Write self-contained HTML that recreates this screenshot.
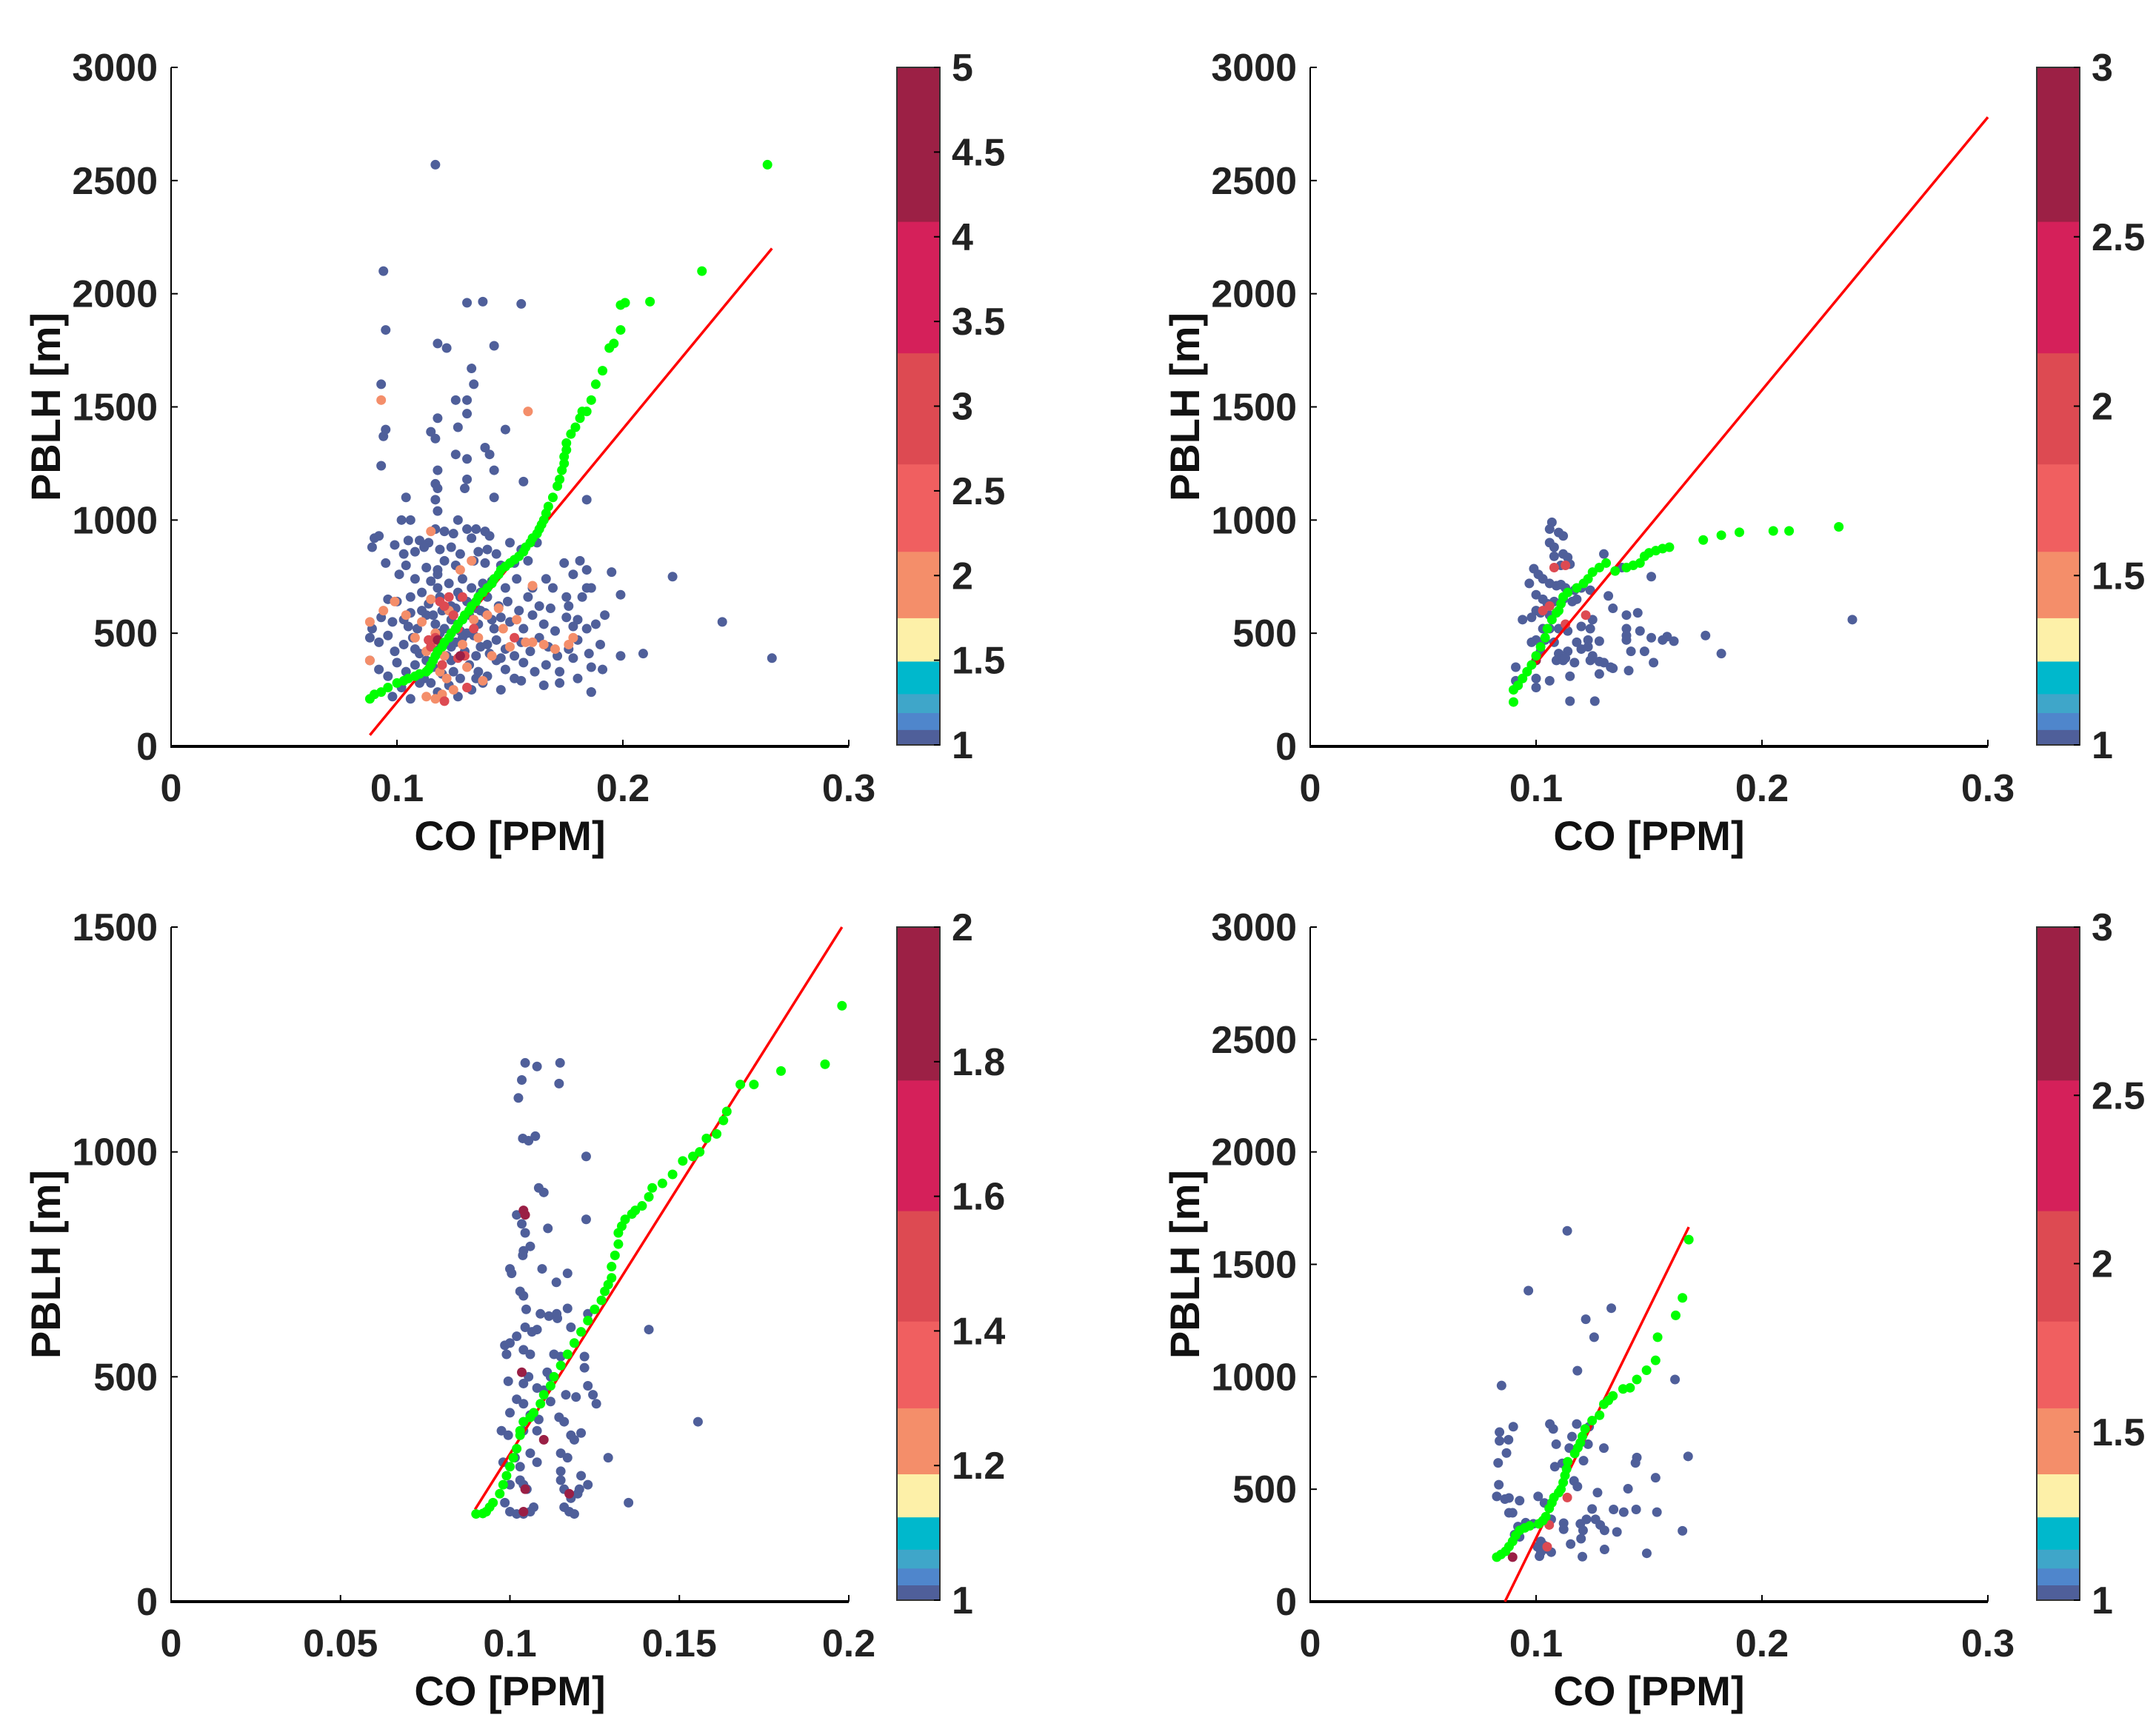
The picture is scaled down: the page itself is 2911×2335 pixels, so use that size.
<!DOCTYPE html>
<html><head><meta charset="utf-8"><style>
html,body{margin:0;padding:0;background:#fff;}
svg{display:block;font-family:"Liberation Sans",Arial,sans-serif;font-weight:bold;}
</style></head><body>
<svg id="fig" width="2911" height="2335" viewBox="0 0 2911 2335" xmlns="http://www.w3.org/2000/svg"></svg>
<script>
// ---------- DATA ----------
const p1Navy=[[0.117,2570],[0.094,2100],[0.095,1840],[0.131,1960],[0.138,1965],[0.155,1955],[0.118,1780],[0.122,1760],[0.143,1770],[0.133,1670],[0.134,1600],[0.093,1600],[0.094,1370],[0.095,1400],[0.093,1240],[0.126,1530],[0.118,1450],[0.131,1530],[0.131,1470],[0.127,1410],[0.115,1390],[0.117,1360],[0.148,1400],[0.139,1320],[0.126,1290],[0.141,1290],[0.131,1270],[0.118,1220],[0.143,1220],[0.117,1160],[0.118,1140],[0.131,1180],[0.130,1140],[0.156,1170],[0.104,1100],[0.143,1100],[0.184,1090],[0.117,1090],[0.118,1040],[0.089,880],[0.090,920],[0.092,930],[0.102,1000],[0.106,1000],[0.222,750],[0.244,550],[0.266,390],[0.209,410],[0.199,400],[0.199,670],[0.195,770],[0.192,580],[0.186,240],[0.181,820],[0.184,780],[0.184,700],
[0.117,960],[0.121,950],[0.127,1000],[0.131,960],[0.135,960],[0.139,950],[0.133,920],[0.141,930],[0.125,940],[0.110,910],[0.105,910],[0.114,900],
[0.103,850],[0.108,860],[0.112,880],[0.099,890],[0.119,870],[0.124,880],[0.128,850],[0.136,860],[0.140,870],[0.144,850],[0.150,900],[0.155,870],[0.162,900],
[0.095,810],[0.104,800],[0.113,790],[0.118,780],[0.121,820],[0.126,800],[0.134,820],[0.139,810],[0.146,800],[0.152,810],[0.158,820],[0.174,810],[0.178,760],[0.166,740],
[0.101,760],[0.108,740],[0.115,730],[0.118,760],[0.123,720],[0.129,740],[0.133,700],[0.138,720],[0.142,730],[0.148,700],[0.153,740],[0.160,700],[0.169,700],[0.175,660],[0.186,700],
[0.096,650],[0.100,640],[0.106,660],[0.111,680],[0.114,630],[0.119,660],[0.124,620],[0.127,680],[0.131,640],[0.135,610],[0.140,660],[0.145,620],[0.149,640],[0.154,600],[0.158,660],[0.163,620],[0.168,610],[0.176,620],[0.182,660],[0.180,560],
[0.089,520],[0.093,570],[0.098,550],[0.103,560],[0.106,590],[0.109,520],[0.113,580],[0.117,540],[0.120,600],[0.124,560],[0.128,510],[0.132,580],[0.136,540],[0.139,590],[0.143,520],[0.146,570],[0.150,550],[0.156,520],[0.160,580],[0.165,540],[0.170,510],[0.175,570],[0.178,530],[0.184,520],[0.188,540],
[0.088,480],[0.092,460],[0.096,490],[0.099,420],[0.103,450],[0.107,480],[0.110,410],[0.114,470],[0.118,430],[0.122,400],[0.126,460],[0.130,420],[0.134,490],[0.137,440],[0.141,410],[0.144,470],[0.148,430],[0.152,400],[0.155,460],[0.159,420],[0.163,480],[0.167,440],[0.171,400],[0.176,430],[0.180,470],[0.185,410],[0.190,450],
[0.088,380],[0.092,340],[0.096,310],[0.100,370],[0.104,330],[0.108,360],[0.112,300],[0.116,350],[0.120,320],[0.124,380],[0.128,300],[0.132,360],[0.136,330],[0.140,310],[0.144,380],[0.148,340],[0.152,300],[0.156,370],[0.161,330],[0.166,360],[0.172,330],[0.178,390],[0.186,350],[0.191,340],
[0.098,220],[0.102,260],[0.106,210],[0.110,280],[0.118,240],[0.123,270],[0.127,220],[0.133,250],[0.138,280],[0.146,250],[0.155,290],[0.165,270],[0.172,280],[0.180,300],[0.186,240],
[0.111,600],[0.116,580],[0.121,520],[0.126,610],[0.131,500],[0.137,600],[0.142,560],[0.108,430],[0.113,380],[0.119,500],[0.124,440],[0.129,480],[0.135,400],[0.140,450],[0.146,390],[0.105,530],[0.118,700],[0.128,660],[0.137,680],[0.115,280],[0.125,330],[0.135,300]];
const p1Orange=[[0.093,1530],[0.158,1480],[0.115,950],[0.160,710],[0.088,550],[0.088,380],[0.094,600],[0.099,640],[0.104,580],[0.108,480],[0.111,550],[0.113,420],[0.115,650],[0.117,500],[0.119,330],[0.121,400],[0.123,600],[0.125,250],[0.126,520],[0.128,780],[0.129,450],[0.131,350],[0.133,820],[0.134,560],[0.136,480],[0.138,290],[0.140,580],[0.142,400],[0.145,610],[0.147,520],[0.150,440],[0.153,560],[0.157,460],[0.160,460],[0.165,450],[0.170,430],[0.176,450],[0.178,480],[0.113,220],[0.117,210],[0.120,230],[0.122,300],[0.116,460]];
const p1Red=[[0.114,470],[0.117,480],[0.119,640],[0.121,620],[0.123,660],[0.125,580],[0.127,520],[0.129,660],[0.130,400],[0.132,600],[0.115,440],[0.120,360],[0.127,390],[0.152,480],[0.134,520],[0.131,260],[0.121,200]];
const p1Dark=[[0.128,400],[0.118,470]];
const p1Green=[[0.088,210],[0.090,230],[0.093,240],[0.096,260],[0.100,280],[0.103,290],[0.105,300],[0.108,310],[0.110,320],[0.113,330],[0.114,340],[0.115,360],[0.116,380],[0.117,400],[0.118,420],[0.120,440],[0.121,460],[0.123,480],[0.124,500],[0.126,520],[0.127,540],[0.129,560],[0.130,580],[0.132,600],[0.133,620],[0.135,640],[0.136,660],[0.138,680],[0.140,700],[0.142,720],[0.143,740],[0.145,760],[0.146,780],[0.148,795],[0.150,810],[0.152,825],[0.154,840],[0.156,860],[0.157,880],[0.159,900],[0.160,920],[0.162,940],[0.163,960],[0.164,980],[0.165,1000],[0.166,1030],[0.167,1060],[0.169,1100],[0.171,1150],[0.172,1180],[0.173,1220],[0.174,1250],[0.174,1280],[0.175,1310],[0.175,1340],[0.177,1380],[0.179,1410],[0.181,1450],[0.182,1480],[0.184,1480],[0.186,1530],[0.188,1600],[0.191,1660],[0.194,1760],[0.196,1780],[0.199,1840],[0.199,1950],[0.201,1960],[0.212,1965],[0.235,2100],[0.264,2570]];
const p1Line=[[0.088,50],[0.266,2200]];

const p2Navy=[[0.107,990],[0.106,960],[0.110,945],[0.112,930],[0.106,900],[0.108,880],[0.108,840],[0.112,850],[0.114,835],[0.130,850],[0.111,800],[0.115,805],[0.099,785],[0.101,760],[0.097,720],[0.103,740],[0.106,720],[0.109,710],[0.111,715],[0.113,700],[0.120,700],[0.117,690],[0.100,670],[0.103,650],[0.105,630],[0.108,640],[0.112,650],[0.116,640],[0.118,650],[0.124,690],[0.132,665],[0.100,600],[0.102,590],[0.106,580],[0.094,560],[0.098,570],[0.125,560],[0.134,610],[0.140,580],[0.145,590],[0.103,520],[0.106,520],[0.110,520],[0.114,510],[0.120,530],[0.124,520],[0.140,520],[0.146,510],[0.100,470],[0.098,460],[0.104,470],[0.108,460],[0.118,460],[0.123,470],[0.140,490],[0.140,470],[0.151,480],[0.158,485],[0.161,465],[0.156,470],[0.175,490],[0.102,420],[0.110,410],[0.114,420],[0.120,430],[0.123,440],[0.128,465],[0.142,420],[0.148,420],[0.109,380],[0.112,380],[0.117,370],[0.124,380],[0.128,375],[0.130,370],[0.133,350],[0.134,345],[0.141,335],[0.152,370],[0.182,410],[0.240,560],[0.091,350],[0.091,290],[0.092,270],[0.100,260],[0.100,300],[0.106,290],[0.115,310],[0.128,320],[0.115,200],[0.126,200],[0.138,790],[0.151,750],[0.125,400],[0.113,390]];
const p2Red=[[0.108,790],[0.113,800],[0.106,620],[0.103,600],[0.122,580],[0.113,540]];
const p2Dark=[[0.100,380]];
const p2Green=[[0.090,196],[0.090,250],[0.092,270],[0.094,300],[0.096,330],[0.098,360],[0.100,400],[0.102,440],[0.104,480],[0.105,520],[0.107,560],[0.109,590],[0.110,600],[0.111,630],[0.112,660],[0.114,680],[0.118,700],[0.121,720],[0.123,740],[0.125,770],[0.128,790],[0.131,810],[0.135,775],[0.140,790],[0.143,800],[0.146,810],[0.148,840],[0.150,855],[0.153,865],[0.156,874],[0.159,880],[0.174,912],[0.182,933],[0.190,946],[0.205,952],[0.212,952],[0.234,970]];
const p2Line=[[0.091,260],[0.300,2780]];

const p3Navy=[[0.1045,1198],[0.1035,1160],[0.1148,1198],[0.1145,1152],[0.1080,1190],[0.1025,1120],[0.1038,1030],[0.1055,1025],[0.1075,1035],[0.1225,990],[0.1085,920],[0.1100,910],[0.1112,830],[0.1020,860],[0.1035,840],[0.1225,850],[0.1045,820],[0.1060,790],[0.1040,780],[0.1038,770],[0.1000,740],[0.1005,730],[0.1095,740],[0.1137,710],[0.1170,730],[0.1030,690],[0.1040,680],[0.1048,650],[0.1090,640],[0.1115,635],[0.1138,640],[0.1170,652],[0.1140,630],[0.1045,610],[0.1065,600],[0.1080,605],[0.1180,610],[0.1230,640],[0.1020,590],[0.0985,570],[0.1000,575],[0.0990,550],[0.1060,550],[0.1040,560],[0.1130,550],[0.1150,545],[0.1110,510],[0.1120,500],[0.1055,500],[0.1220,545],[0.1220,520],[0.0995,490],[0.1040,485],[0.1080,475],[0.1100,470],[0.1020,450],[0.1040,440],[0.1120,445],[0.1165,460],[0.1195,455],[0.1230,480],[0.1245,460],[0.1255,440],[0.1000,420],[0.1060,415],[0.1040,400],[0.1085,405],[0.1145,410],[0.1160,400],[0.0975,380],[0.0995,370],[0.1040,380],[0.1080,380],[0.1180,370],[0.1190,360],[0.1210,375],[0.1150,330],[0.1170,320],[0.1060,330],[0.1015,320],[0.0980,310],[0.1030,300],[0.1080,310],[0.1030,270],[0.1040,260],[0.1050,250],[0.1150,270],[0.1160,250],[0.1180,230],[0.1200,240],[0.1210,280],[0.1230,260],[0.1290,320],[0.1150,290],[0.1000,260],[0.0985,220],[0.1000,200],[0.1020,195],[0.1040,195],[0.1060,200],[0.1070,210],[0.1160,210],[0.1175,200],[0.1190,195],[0.1205,250],[0.1350,220],[0.1555,400],[0.1410,605]];
const p3Dark=[[0.1040,870],[0.1045,860],[0.1035,510],[0.1100,360],[0.1045,250],[0.1175,240],[0.1040,200]];
const p3Green=[[0.090,195],[0.092,196],[0.093,200],[0.094,210],[0.095,220],[0.097,240],[0.098,260],[0.099,280],[0.100,300],[0.101,320],[0.102,340],[0.103,370],[0.103,380],[0.104,400],[0.106,410],[0.107,420],[0.109,440],[0.110,460],[0.112,480],[0.113,500],[0.115,525],[0.117,550],[0.119,575],[0.121,600],[0.123,625],[0.125,650],[0.127,670],[0.128,690],[0.129,705],[0.130,720],[0.130,745],[0.131,770],[0.132,795],[0.132,820],[0.133,835],[0.134,850],[0.136,862],[0.137,870],[0.139,880],[0.141,900],[0.142,920],[0.145,930],[0.148,950],[0.151,980],[0.154,990],[0.156,1000],[0.158,1030],[0.161,1040],[0.163,1070],[0.164,1090],[0.168,1150],[0.172,1150],[0.180,1180],[0.193,1195],[0.198,1325]];
const p3Line=[[0.0897,205],[0.198,1500]];

const p4Navy=[[0.1138,1649],[0.0966,1383],[0.1333,1305],[0.122,1256],[0.1257,1176],[0.1183,1027],[0.0847,961],[0.1615,988],[0.0899,778],[0.0838,754],[0.0838,715],[0.0878,720],[0.1061,790],[0.1076,768],[0.118,790],[0.1159,734],[0.1089,700],[0.1147,683],[0.123,700],[0.13,683],[0.1235,778],[0.0869,661],[0.0832,617],[0.1446,641],[0.144,617],[0.1673,646],[0.1083,600],[0.1116,615],[0.121,627],[0.1168,537],[0.1183,512],[0.0835,520],[0.1529,551],[0.1272,485],[0.1407,502],[0.0826,468],[0.0862,456],[0.088,461],[0.0927,449],[0.1009,468],[0.1037,439],[0.088,395],[0.0896,395],[0.1248,412],[0.1343,410],[0.1388,398],[0.1443,410],[0.1535,398],[0.1223,366],[0.1196,346],[0.1263,366],[0.1284,341],[0.1122,349],[0.1067,366],[0.092,334],[0.0954,351],[0.0988,346],[0.1208,317],[0.1303,317],[0.1358,310],[0.1648,315],[0.1122,322],[0.1199,280],[0.1153,256],[0.0927,288],[0.0905,298],[0.1006,244],[0.1021,268],[0.1037,249],[0.1067,220],[0.1015,202],[0.1205,200],[0.1303,232],[0.149,215],[0.1021,220],[0.1049,234]];
const p4Red=[[0.1138,463],[0.1049,244],[0.1058,341]];
const p4Dark=[[0.0896,198]];
const p4Green=[[0.0826,198],[0.0845,210],[0.0865,224],[0.088,245],[0.0896,268],[0.091,295],[0.0927,317],[0.095,328],[0.0972,337],[0.1012,346],[0.103,360],[0.1043,378],[0.1058,415],[0.107,440],[0.1079,463],[0.110,485],[0.111,500],[0.112,530],[0.1128,561],[0.1135,590],[0.114,622],[0.1171,659],[0.1185,685],[0.1196,707],[0.1205,735],[0.1217,768],[0.1248,805],[0.1281,829],[0.13,878],[0.132,895],[0.134,915],[0.1385,946],[0.1416,951],[0.1446,988],[0.1489,1029],[0.1529,1073],[0.1538,1176],[0.1618,1273],[0.1648,1351],[0.1676,1610]];
const p4Line=[[0.0862,0],[0.1676,1666]];

const xTicks03=[0,0.1,0.2,0.3], xTickLabels03=["0","0.1","0.2","0.3"];
const xTicks02=[0,0.05,0.1,0.15,0.2], xTickLabels02=["0","0.05","0.1","0.15","0.2"];
const yTicks3000=[0,500,1000,1500,2000,2500,3000];
const yTicks1500=[0,500,1000,1500];
const cbTicks5=[1,1.5,2,2.5,3,3.5,4,4.5,5];
const cbTicks3=[1,1.5,2,2.5,3];
const cbTicks2=[1,1.2,1.4,1.6,1.8,2];

// ---------- LAYOUT / STYLE ----------
const NS="http://www.w3.org/2000/svg";
const svg=document.getElementById("fig");
const COL={navy:"#4f5f9a",orange:"#f48e6a",red:"#dd4a52",dark:"#9a1f45",green:"#00ff00"};
const cbFrac=[0,0.228,0.422,0.586,0.715,0.813,0.877,0.925,0.953,0.978,1];
const cbCols=["#9c2045","#d5205a","#dd4a52","#f05f60","#f48e6a","#fdf0a8","#00b8cc","#3fa6c9","#4f86cc","#4f5f9a"];
const TF=52, AF=56, R=6.5;
function mk(tag,attrs,parent){const e=document.createElementNS(NS,tag);for(const k in attrs)e.setAttribute(k,attrs[k]);(parent||svg).appendChild(e);return e;}

function panel(cfg){
  const g=mk("g",{});
  
  
  const sx=v=>cfg.L+(v-0)/(cfg.xmax)*(cfg.R-cfg.L);
  const sy=v=>cfg.B-(v/cfg.ymax)*(cfg.B-cfg.T);
  const ya=mk("line",{x1:cfg.L,y1:cfg.T,x2:cfg.L,y2:cfg.B,stroke:"#000","stroke-width":2},g);
  
  
  const xa=mk("line",{x1:cfg.L-1,y1:cfg.B,x2:cfg.R,y2:cfg.B,stroke:"#000","stroke-width":4},g);
  
  
  cfg.xt.forEach((v,i)=>{
    mk("line",{x1:sx(v),y1:cfg.B,x2:sx(v),y2:cfg.B-9,stroke:"#000","stroke-width":2},g);
    const t=mk("text",{x:sx(v),y:cfg.B+74,"text-anchor":"middle","font-size":TF,fill:"#222"},g);
    t.textContent=cfg.xl[i];
    
    
  });
  cfg.yt.forEach(v=>{
    mk("line",{x1:cfg.L,y1:sy(v),x2:cfg.L+9,y2:sy(v),stroke:"#000","stroke-width":2},g);
    const t=mk("text",{x:cfg.L-18,y:sy(v)+18,"text-anchor":"end","font-size":TF,fill:"#222"},g);
    t.textContent=String(v);
    
    
  });
  const xt=mk("text",{x:(cfg.L+cfg.R)/2,y:cfg.B+140,"text-anchor":"middle","font-size":AF,fill:"#111"},g);
  xt.textContent="CO [PPM]";
  
  
  const cy=(cfg.T+cfg.B)/2, cx=cfg.L-150;
  const yt=mk("text",{x:cx,y:cy,"text-anchor":"middle","font-size":AF,fill:"#111",transform:`rotate(-90 ${cx} ${cy})`},g);
  yt.textContent="PBLH [m]";
  
  
  const dots=(arr,col,nm)=>arr.forEach(p=>{
    const c=mk("circle",{cx:sx(p[0]),cy:sy(p[1]),r:R,fill:col},g);
    
    
  });
  dots(cfg.navy||[],COL.navy,'scatter-point-navy');
  dots(cfg.orange||[],COL.orange,'scatter-point-orange');
  dots(cfg.red||[],COL.red,'scatter-point-red');
  dots(cfg.dark||[],COL.dark,'scatter-point-darkred');
  const ln=mk("line",{x1:sx(cfg.line[0][0]),y1:sy(cfg.line[0][1]),x2:sx(cfg.line[1][0]),y2:sy(cfg.line[1][1]),stroke:"#ff0000","stroke-width":3.5},g);
  
  
  dots(cfg.green,COL.green,'quantile-point-green');
  const cb=mk("g",{},g);
  
  
  const H=cfg.cbB-cfg.T;
  cbCols.forEach((c,i)=>{
    mk("rect",{x:cfg.cbL,y:cfg.T+cbFrac[i]*H,width:cfg.cbR-cfg.cbL,height:(cbFrac[i+1]-cbFrac[i])*H+0.5,fill:c},cb);
  });
  mk("rect",{x:cfg.cbL,y:cfg.T,width:cfg.cbR-cfg.cbL,height:H,fill:"none",stroke:"#333","stroke-width":2},cb);
  const lo=cfg.cbt[0],hi=cfg.cbt[cfg.cbt.length-1];
  cfg.cbt.forEach(v=>{
    const y=cfg.cbB-(v-lo)/(hi-lo)*H;
    mk("line",{x1:cfg.cbR-8,y1:y,x2:cfg.cbR,y2:y,stroke:"#000","stroke-width":2},cb);
    const t=mk("text",{x:cfg.cbR+16,y:y+18,"font-size":TF,fill:"#222"},cb);
    t.textContent=String(v);
    
    
  });
}
panel({name:'panel-top-left',L:231,R:1146,T:91,B:1008,xmax:0.3,ymax:3000,xt:xTicks03,xl:xTickLabels03,yt:yTicks3000,navy:p1Navy,orange:p1Orange,red:p1Red,dark:p1Dark,green:p1Green,line:p1Line,cbL:1211,cbR:1269,cbB:1006,cbt:cbTicks5});
panel({name:'panel-top-right',L:1769,R:2684,T:91,B:1008,xmax:0.3,ymax:3000,xt:xTicks03,xl:xTickLabels03,yt:yTicks3000,navy:p2Navy,red:p2Red,dark:p2Dark,green:p2Green,line:p2Line,cbL:2750,cbR:2808,cbB:1006,cbt:cbTicks3});
panel({name:'panel-bottom-left',L:231,R:1146,T:1252,B:2163,xmax:0.2,ymax:1500,xt:xTicks02,xl:xTickLabels02,yt:yTicks1500,navy:p3Navy,dark:p3Dark,green:p3Green,line:p3Line,cbL:1211,cbR:1269,cbB:2161,cbt:cbTicks2});
panel({name:'panel-bottom-right',L:1769,R:2684,T:1252,B:2163,xmax:0.3,ymax:3000,xt:xTicks03,xl:xTickLabels03,yt:yTicks3000,navy:p4Navy,red:p4Red,dark:p4Dark,green:p4Green,line:p4Line,cbL:2750,cbR:2808,cbB:2161,cbt:cbTicks3});
</script>
</body></html>
